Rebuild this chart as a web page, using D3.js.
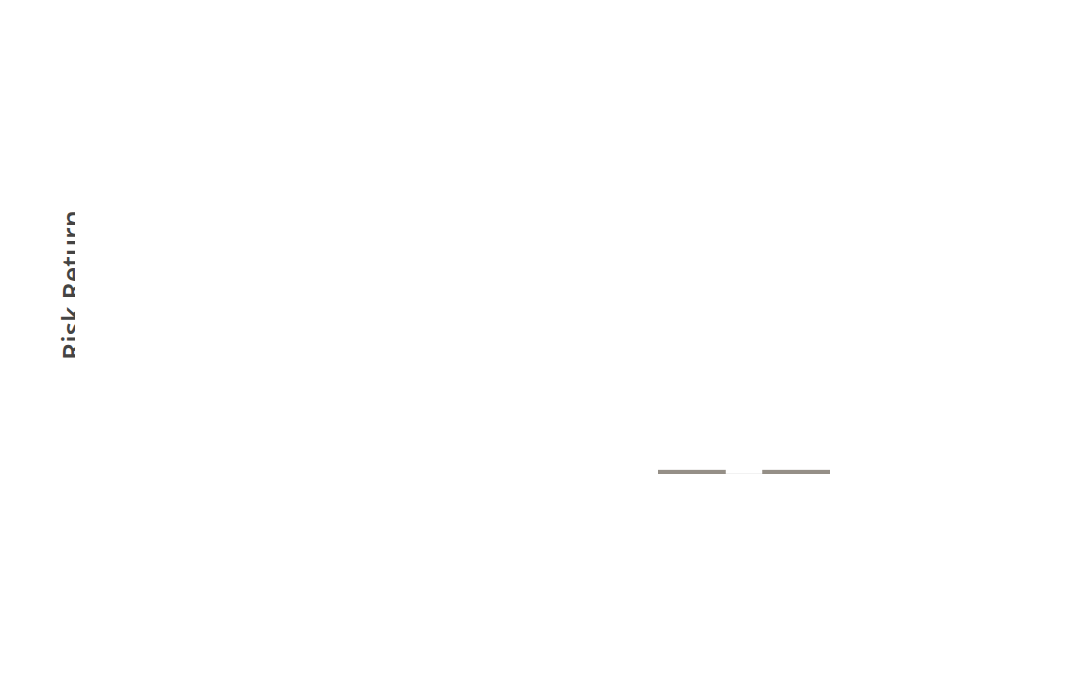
<!DOCTYPE html>
<html>
<head>
<meta charset="utf-8">
<script src="https://cdn.jsdelivr.net/npm/d3@7"></script>
<style>
  body { margin: 0; background: #fff; }
  svg { display: block; }
</style>
</head>
<body>
<div id="chart"></div>
<script>
// data
const categories = ["A", "B"];
const values = [1, 1];
const yTicks = [0, 100];
const yLabel = "Risk Return";

const W = 1080, H = 700;
const margin = {top: 60, right: 250, bottom: 226, left: 658};
const width = W - margin.left - margin.right,
      height = H - margin.top - margin.bottom;

const svg = d3.select("#chart")
  .append("svg")
  .attr("width", W)
  .attr("height", H);

// clip for the y label, it's cut on the right side
svg.append("clipPath")
  .attr("id", "labelClip")
  .append("rect")
  .attr("x", 0).attr("y", 0)
  .attr("width", 75).attr("height", H);

svg.append("g")
  .attr("clip-path", "url(#labelClip)")
  .append("text")
  .attr("transform", `translate(82,285) rotate(-90)`)
  .attr("text-anchor", "middle")
  .style("font-family", "'Open Sans', sans-serif")
  .style("font-size", "27px")
  .style("font-weight", "600")
  .style("fill", "#444")
  .text(yLabel);

const g = svg.append("g")
  .attr("transform", `translate(${margin.left},${margin.top})`);

const x = d3.scaleBand()
  .domain(categories)
  .range([0, width])
  .paddingInner(0.35)
  .paddingOuter(0);

const y = d3.scaleLinear()
  .domain(d3.extent(yTicks))
  .range([height, 0]);

// pale baseline
g.append("line")
  .attr("x1", 0).attr("x2", width)
  .attr("y1", y(0) - 0.5).attr("y2", y(0) - 0.5)
  .attr("stroke", "#f2f2f2")
  .attr("stroke-width", 1);

g.selectAll("rect.bar")
  .data(values)
  .join("rect")
  .attr("class", "bar")
  .attr("x", (d, i) => x(categories[i]))
  .attr("y", d => y(d))
  .attr("width", x.bandwidth())
  .attr("height", d => y(0) - y(d))
  .attr("fill", "#958f87");
</script>
</body>
</html>
